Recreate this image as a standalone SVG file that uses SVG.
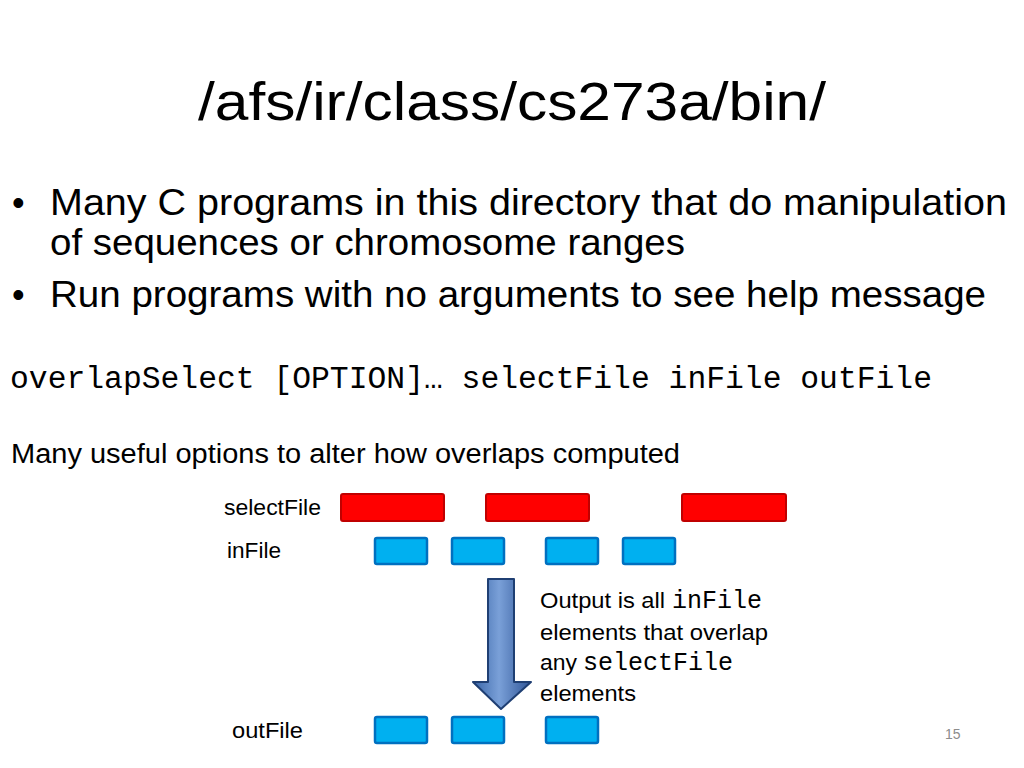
<svg xmlns="http://www.w3.org/2000/svg" width="1024" height="768" viewBox="0 0 1024 768">
<style>
.s{font-family:"Liberation Sans",Arial,sans-serif;fill:#000}
.m{font-family:"Liberation Mono","Courier New",monospace;fill:#000}
.red{fill:#ff0000;stroke:#c00000;stroke-width:2}
.blue{fill:#00b0f0;stroke:#0070c0;stroke-width:2.5}
</style>
<defs>
<linearGradient id="ag" x1="0" y1="0" x2="1" y2="0">
<stop offset="0" stop-color="#3a66a8"/>
<stop offset="0.45" stop-color="#7aa0d8"/>
<stop offset="1" stop-color="#2f5597"/>
</linearGradient>
</defs>
<rect width="1024" height="768" fill="#fff"/>
<text class="s" x="198" y="120" font-size="54" textLength="628" lengthAdjust="spacingAndGlyphs">/afs/ir/class/cs273a/bin/</text>
<text class="s" x="12" y="215" font-size="36">•</text>
<text class="s" x="50" y="215" font-size="36" textLength="957" lengthAdjust="spacingAndGlyphs">Many C programs in this directory that do manipulation</text>
<text class="s" x="50" y="255" font-size="36" textLength="635" lengthAdjust="spacingAndGlyphs">of sequences or chromosome ranges</text>
<text class="s" x="12" y="307" font-size="36">•</text>
<text class="s" x="50" y="307" font-size="36" textLength="936" lengthAdjust="spacingAndGlyphs">Run programs with no arguments to see help message</text>
<text class="m" x="10" y="388" font-size="31" textLength="922" lengthAdjust="spacingAndGlyphs">overlapSelect [OPTION]… selectFile inFile outFile</text>
<text class="s" x="11" y="463" font-size="27" textLength="669" lengthAdjust="spacingAndGlyphs">Many useful options to alter how overlaps computed</text>
<g id="selectFile">
<text class="s" x="224" y="515" font-size="22" textLength="97" lengthAdjust="spacingAndGlyphs">selectFile</text>
<rect class="red" x="341" y="494" width="103" height="27" rx="2"/>
<rect class="red" x="486" y="494" width="103" height="27" rx="2"/>
<rect class="red" x="682" y="494" width="104" height="27" rx="2"/>
</g>
<g id="inFile">
<text class="s" x="227" y="558" font-size="22" textLength="54" lengthAdjust="spacingAndGlyphs">inFile</text>
<rect class="blue" x="375" y="538" width="52" height="26" rx="2"/>
<rect class="blue" x="452" y="538" width="52" height="26" rx="2"/>
<rect class="blue" x="546" y="538" width="52" height="26" rx="2"/>
<rect class="blue" x="623" y="538" width="52" height="26" rx="2"/>
</g>
<g id="connectors">
<path d="M488,579 L514,579 L514,682 L531,682 L501,709 L473,682 L488,682 Z" fill="url(#ag)" stroke="#1f3f73" stroke-width="2" stroke-linejoin="round"/>
</g>
<g id="note">
<text class="s" x="540" y="608" font-size="22"><tspan textLength="125" lengthAdjust="spacingAndGlyphs">Output is all</tspan><tspan class="m" x="672" font-size="25">inFile</tspan></text>
<text class="s" x="540" y="640" font-size="22" textLength="228" lengthAdjust="spacingAndGlyphs">elements that overlap</text>
<text class="s" x="540" y="670" font-size="22"><tspan textLength="37" lengthAdjust="spacingAndGlyphs">any</tspan><tspan class="m" x="583" font-size="25">selectFile</tspan></text>
<text class="s" x="540" y="701" font-size="22" textLength="96" lengthAdjust="spacingAndGlyphs">elements</text>
</g>
<g id="outFile">
<text class="s" x="232" y="738" font-size="22" textLength="71" lengthAdjust="spacingAndGlyphs">outFile</text>
<rect class="blue" x="375" y="717" width="52" height="26" rx="2"/>
<rect class="blue" x="452" y="717" width="52" height="26" rx="2"/>
<rect class="blue" x="546" y="717" width="52" height="26" rx="2"/>
</g>
<text x="945" y="739" font-size="14" fill="#8c8c8c" font-family="Liberation Sans,Arial,sans-serif">15</text>
</svg>
